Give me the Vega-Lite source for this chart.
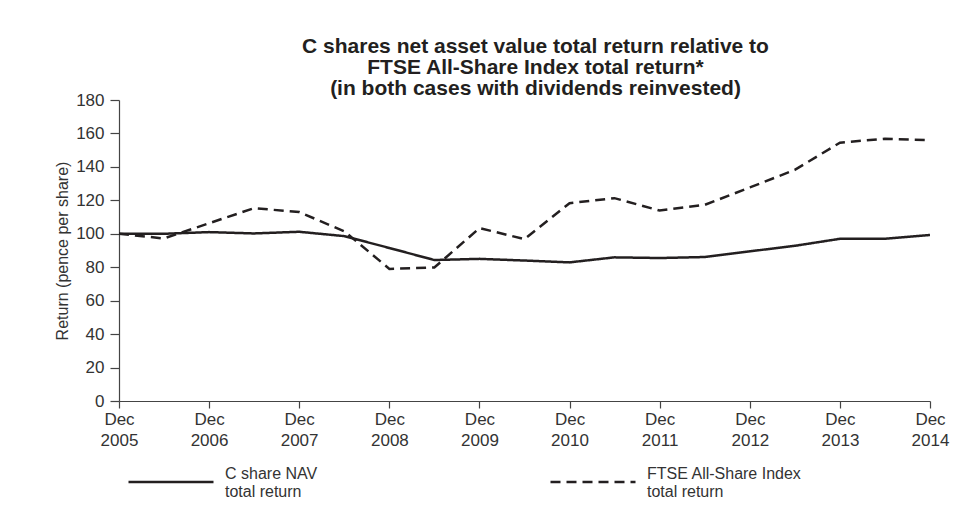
{
  "$schema": "https://vega.github.io/schema/vega-lite/v6.json",
  "autosize": "none",
  "width": 811,
  "height": 301,
  "padding": {"left": 119, "top": 100, "right": 44, "bottom": 110},
  "background": "white",
  "config": {
    "view": {"stroke": null},
    "font": "Liberation Sans",
    "axis": {"grid": false, "domainColor": "#444", "tickColor": "#444", "labelColor": "#333", "labelFont": "Liberation Sans", "labelFontSize": 17, "titleFont": "Liberation Sans", "titleFontWeight": "normal", "titleColor": "#333", "domainWidth": 1.2, "tickWidth": 1.2}
  },
  "title": {
    "text": ["C shares net asset value total return relative to", "FTSE All-Share Index total return*", "(in both cases with dividends reinvested)"],
    "font": "Liberation Sans",
    "fontSize": 21,
    "fontWeight": "bold",
    "color": "#231f20",
    "lineHeight": 21,
    "anchor": "middle",
    "frame": "group",
    "dx": 11,
    "offset": -8
  },
  "data": {
    "values": [
      {"date": "2005-12-01", "series": "C share NAV total return", "value": 100},
      {"date": "2006-06-01", "series": "C share NAV total return", "value": 100},
      {"date": "2006-12-01", "series": "C share NAV total return", "value": 101},
      {"date": "2007-06-01", "series": "C share NAV total return", "value": 100.2},
      {"date": "2007-12-01", "series": "C share NAV total return", "value": 101.2},
      {"date": "2008-06-01", "series": "C share NAV total return", "value": 98.6},
      {"date": "2008-12-01", "series": "C share NAV total return", "value": 91.5},
      {"date": "2009-06-01", "series": "C share NAV total return", "value": 84.3},
      {"date": "2009-12-01", "series": "C share NAV total return", "value": 85},
      {"date": "2010-06-01", "series": "C share NAV total return", "value": 84},
      {"date": "2010-12-01", "series": "C share NAV total return", "value": 82.9},
      {"date": "2011-06-01", "series": "C share NAV total return", "value": 85.9},
      {"date": "2011-12-01", "series": "C share NAV total return", "value": 85.5},
      {"date": "2012-06-01", "series": "C share NAV total return", "value": 86.1},
      {"date": "2012-12-01", "series": "C share NAV total return", "value": 89.5},
      {"date": "2013-06-01", "series": "C share NAV total return", "value": 92.8},
      {"date": "2013-12-01", "series": "C share NAV total return", "value": 97},
      {"date": "2014-06-01", "series": "C share NAV total return", "value": 97},
      {"date": "2014-12-01", "series": "C share NAV total return", "value": 99.3},
      {"date": "2005-12-01", "series": "FTSE All-Share Index total return", "value": 100},
      {"date": "2006-06-01", "series": "FTSE All-Share Index total return", "value": 97.2},
      {"date": "2006-12-01", "series": "FTSE All-Share Index total return", "value": 106.3},
      {"date": "2007-06-01", "series": "FTSE All-Share Index total return", "value": 115.3},
      {"date": "2007-12-01", "series": "FTSE All-Share Index total return", "value": 113},
      {"date": "2008-06-01", "series": "FTSE All-Share Index total return", "value": 101.5},
      {"date": "2008-12-01", "series": "FTSE All-Share Index total return", "value": 79},
      {"date": "2009-06-01", "series": "FTSE All-Share Index total return", "value": 79.8},
      {"date": "2009-12-01", "series": "FTSE All-Share Index total return", "value": 103.4},
      {"date": "2010-06-01", "series": "FTSE All-Share Index total return", "value": 96.8},
      {"date": "2010-12-01", "series": "FTSE All-Share Index total return", "value": 118.3},
      {"date": "2011-06-01", "series": "FTSE All-Share Index total return", "value": 121.3},
      {"date": "2011-12-01", "series": "FTSE All-Share Index total return", "value": 113.9},
      {"date": "2012-06-01", "series": "FTSE All-Share Index total return", "value": 117.3},
      {"date": "2012-12-01", "series": "FTSE All-Share Index total return", "value": 127.7},
      {"date": "2013-06-01", "series": "FTSE All-Share Index total return", "value": 138.2},
      {"date": "2013-12-01", "series": "FTSE All-Share Index total return", "value": 154.5},
      {"date": "2014-06-01", "series": "FTSE All-Share Index total return", "value": 156.8},
      {"date": "2014-12-01", "series": "FTSE All-Share Index total return", "value": 156}
    ]
  },
  "mark": {"type": "line", "color": "#231f20", "strokeWidth": 2.5},
  "encoding": {
    "x": {
      "field": "date",
      "type": "temporal",
      "scale": {"type": "utc", "domain": [{"year": 2005, "month": 12, "date": 1, "utc": true}, {"year": 2014, "month": 12, "date": 1, "utc": true}], "nice": false},
      "axis": {
        "title": null,
        "values": [
          {"year": 2005, "month": 12, "date": 1, "utc": true},
          {"year": 2006, "month": 12, "date": 1, "utc": true},
          {"year": 2007, "month": 12, "date": 1, "utc": true},
          {"year": 2008, "month": 12, "date": 1, "utc": true},
          {"year": 2009, "month": 12, "date": 1, "utc": true},
          {"year": 2010, "month": 12, "date": 1, "utc": true},
          {"year": 2011, "month": 12, "date": 1, "utc": true},
          {"year": 2012, "month": 12, "date": 1, "utc": true},
          {"year": 2013, "month": 12, "date": 1, "utc": true},
          {"year": 2014, "month": 12, "date": 1, "utc": true}
        ],
        "labelExpr": "['Dec', utcFormat(datum.value, '%Y')]",
        "labelLineHeight": 21,
        "tickSize": 7,
        "labelPadding": 3,
        "labelFlush": false,
        "labelOverlap": false
      }
    },
    "y": {
      "field": "value",
      "type": "quantitative",
      "scale": {"domain": [0, 180], "nice": false},
      "axis": {
        "title": "Return (pence per share)",
        "titleFontSize": 16,
        "values": [0, 20, 40, 60, 80, 100, 120, 140, 160, 180],
        "tickSize": 9,
        "labelPadding": 6,
        "titlePadding": 5
      }
    },
    "strokeDash": {
      "field": "series",
      "type": "nominal",
      "scale": {"domain": ["C share NAV total return", "FTSE All-Share Index total return"], "range": [[1, 0], [10, 6]]},
      "legend": {
        "title": null,
        "orient": "none",
        "legendX": 8,
        "legendY": 338,
        "direction": "horizontal",
        "columns": 2,
        "padding": 0,
        "symbolType": "stroke",
        "symbolSize": 7225,
        "symbolStrokeWidth": 2.5,
        "symbolStrokeColor": "#231f20",
        "labelExpr": "datum.label == 'C share NAV total return' ? ['C share NAV', 'total return'] : ['FTSE All-Share Index', 'total return']",
        "labelFont": "Liberation Sans",
        "labelFontSize": 16,
        "labelColor": "#333",
        "labelOffset": 10,
        "labelBaseline": "bottom",
        "columnPadding": 227,
        "labelLimit": 300
      }
    }
  }
}
